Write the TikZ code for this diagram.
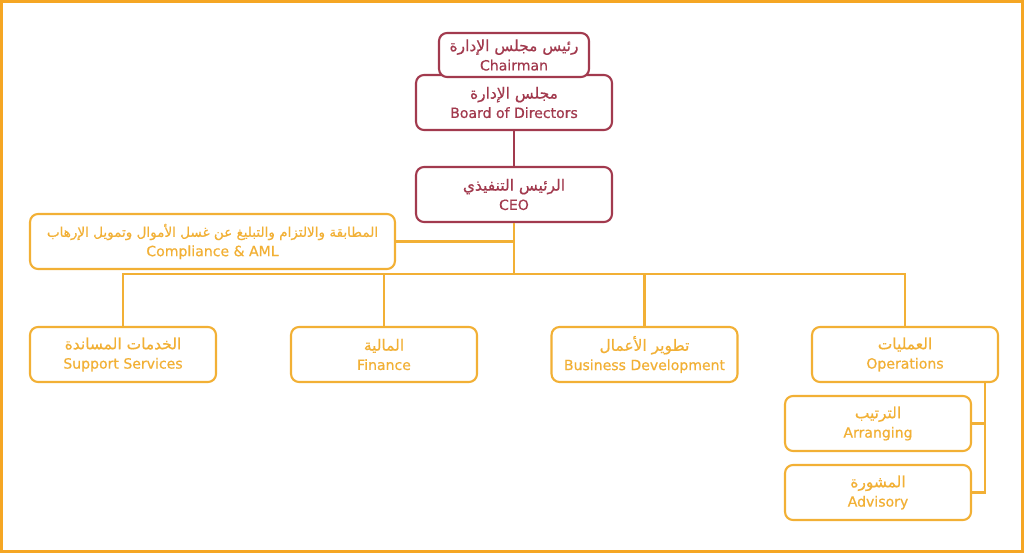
\documentclass[tikz,border=0pt]{standalone}
\usepackage{fontspec}
\setmainfont[FakeBold=0.6]{DejaVu Sans}
\newfontfamily\arabicfont[Script=Arabic, FakeBold=0.6, Scale=1.1]{DejaVu Sans}
\TeXXeTstate=1
\definecolor{boardred}{HTML}{A23A4E}
\definecolor{unitorange}{HTML}{F2B035}
\definecolor{frameorange}{HTML}{F5A623}
\newcommand{\artext}[1]{{\arabicfont\beginR #1\endR}}
\tikzset{
  orgbox/.style={fill=white, rounded corners=0.16cm, line width=1.2pt, align=center,
    inner sep=0pt, minimum width=3.72cm, minimum height=1.1cm,
    font=\fontsize{8}{11}\selectfont},
  boardbox/.style={orgbox, draw=boardred, text=boardred},
  unitbox/.style={orgbox, draw=unitorange, text=unitorange},
  boardline/.style={draw=boardred, line width=1.2pt},
  unitline/.style={draw=unitorange, line width=1.2pt}
}
\begin{document}
\begin{tikzpicture}[x=0.02cm, y=-0.02cm]
        \useasboundingbox (0,0) rectangle (1024,553);
        % Frame
        \draw[frameorange, line width=1.7pt] (1.5,1.5) rectangle (1022.5,551.5);

        % Board
        \node[boardbox, minimum width=3.92cm] (board) at (514,102.5) {\artext{مجلس الإدارة}\\Board of Directors};
        \node[boardbox, minimum width=3cm, minimum height=0.88cm] (chairman) at (514,55) {\artext{رئيس مجلس الإدارة}\\Chairman};
        \node[boardbox, minimum width=3.92cm] (ceo) at (514,194.5) {\artext{الرئيس التنفيذي}\\CEO};
        \draw[boardline] (board) -- (ceo);

        % Compliance
        \node[unitbox, minimum width=7.3cm] (compliance) at (212.5,241.5) {{\fontsize{7}{11}\selectfont\artext{المطابقة والالتزام والتبليغ عن غسل الأموال وتمويل الإرهاب}}\\Compliance \& AML};

        % Departments
        \node[unitbox] (support) at (123,354.5) {\artext{الخدمات المساندة}\\Support Services};
        \node[unitbox] (finance) at (384,354.5) {\artext{المالية}\\Finance};
        \node[unitbox] (bizdev) at (644.5,354.5) {\artext{تطوير الأعمال}\\Business Development};
        \node[unitbox] (operations) at (905,354.5) {\artext{العمليات}\\Operations};

        % Operations units
        \node[unitbox] (arranging) at (878,423.5) {\artext{الترتيب}\\Arranging};
        \node[unitbox] (advisory) at (878,492.5) {\artext{المشورة}\\Advisory};

        % Connectors
        \coordinate (hub) at (514,274);
        \coordinate (opsdrop) at (985,382);
        \draw[unitline] (ceo) -- (hub);
        \draw[unitline] (compliance.east) -- (compliance.east -| hub);
        \draw[unitline] (support.north) |- (hub) -| (operations.north);
        \draw[unitline] (finance.north) -- (finance.north |- hub);
        \draw[unitline] (bizdev.north) -- (bizdev.north |- hub);
        \draw[unitline] (opsdrop) |- (advisory.east);
        \draw[unitline] (opsdrop |- arranging.east) -- (arranging.east);
    \end{tikzpicture}
\end{document}
